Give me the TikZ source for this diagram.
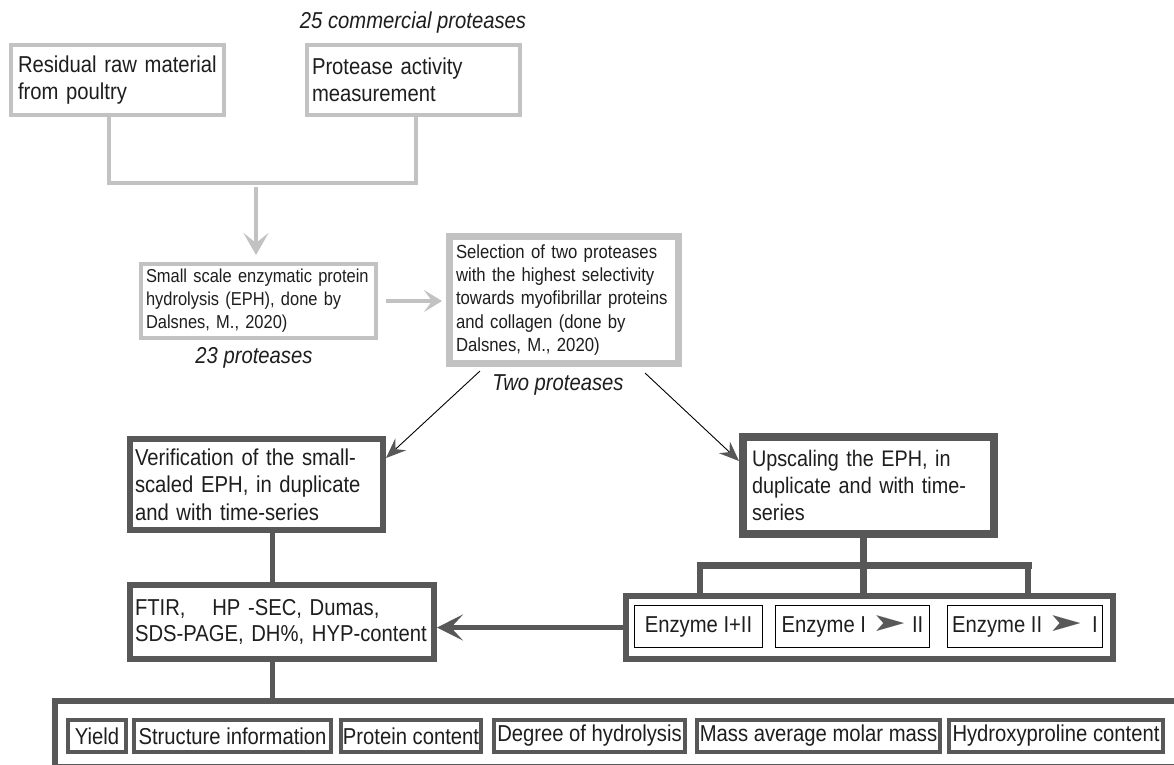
\documentclass[tikz,border=0pt]{standalone}
\usepackage{graphicx}
\usepackage{fontspec}
\setmainfont[FakeStretch=0.88]{Liberation Sans}
\newfontfamily\symfont{DejaVu Sans}
\usetikzlibrary{arrows.meta}
\definecolor{lgray}{HTML}{C2C2C2}
\definecolor{dgray}{HTML}{585858}
\definecolor{txt}{HTML}{1E1E1E}
\begin{document}
\begin{tikzpicture}[x=1pt,y=-1pt,
  every node/.style={text=txt, font=\fontsize{23}{27}\selectfont},
  lbox/.style={draw=lgray, fill=white, align=left, inner ysep=0pt},
  dbox/.style={draw=dgray, fill=white, align=left, inner ysep=0pt},
  ebox/.style={draw=black, line width=1.5pt, fill=white, inner sep=0pt, minimum height=42pt},
  rbox/.style={draw=dgray, line width=4pt, fill=white, inner sep=0pt, minimum height=32pt},
  lab/.style={font=\fontsize{23}{27}\selectfont\itshape},
  lline/.style={draw=lgray, line width=4pt},
  larrow/.style={lline, -{Stealth[length=22pt,width=25pt,inset=10pt]}},
  sarrow/.style={lline, line width=3.5pt, -{Stealth[length=18pt,width=22pt,inset=8pt]}},
  tarrow/.style={draw=black, line width=0.9pt, -{Stealth[length=20pt,width=16pt,inset=7pt,fill=dgray,color=dgray]}},
  dline/.style={draw=dgray, line width=5pt},
  barline/.style={draw=dgray, line width=7pt},
  darrow/.style={draw=dgray, line width=5pt, -{Stealth[length=26pt,width=26pt,inset=12pt]}}
]
\useasboundingbox (0,0) rectangle (1174,764);
\fill[white] (0,0) rectangle (1174,764);
\clip (0,0) rectangle (1174,764);

% top light-gray part
\node[lbox, line width=4pt, minimum width=213pt, minimum height=70pt, text width=199pt, inner xsep=7pt]
  (A) at (117.5,80) {\mbox{Residual raw material}\\\mbox{from poultry}};
\node[lbox, line width=4pt, minimum width=213pt, minimum height=70pt, text width=203pt, inner xsep=5pt]
  (B) at (413.5,80) {\mbox{Protease activity}\\\mbox{measurement}};
\node[lab] (l25) at (413,23) {25 commercial proteases};

\node[lbox, line width=4pt, minimum width=235pt, minimum height=74pt, text width=225pt, inner xsep=5pt,
  font=\fontsize{18.7}{23}\selectfont]
  (C) at (258.5,301) {\mbox{Small scale enzymatic protein}\\\mbox{hydrolysis (EPH), done by}\\\mbox{Dalsnes, M., 2020)}};
\node[lab] (l23) at (254,358) {23 proteases};

\node[lbox, line width=7pt, minimum width=229pt, minimum height=127pt, text width=216pt, inner xsep=6.5pt,
  font=\fontsize{19}{23.3}\selectfont]
  (D) at (564,300) {\mbox{Selection of two proteases}\\\mbox{with the highest selectivity}\\\mbox{towards myofibrillar proteins}\\\mbox{and collagen (done by}\\\mbox{Dalsnes, M., 2020)}};
\node[lab] (ltwo) at (558,385) {Two proteases};

\coordinate (ax) at (109,0);
\coordinate (bx) at (416,0);
\coordinate (j) at (256,183);
\draw[lline] (A.south -| ax) |- (j) -| (B.south -| bx);
\draw[larrow, shorten <=4pt, shorten >=7pt] (j) -- (C.north -| j);
\draw[sarrow, shorten <=8pt, shorten >=4pt] (C.east) -- (C.east -| D.west);

% middle dark part
\node[dbox, line width=6pt, minimum width=253pt, minimum height=91pt, text width=243pt, inner xsep=5pt,
  font=\fontsize{23}{27.5}\selectfont]
  (V) at (256.5,484.5) {\mbox{Verification of the small-}\\\mbox{scaled EPH, in duplicate}\\\mbox{and with time-series}};
\node[dbox, line width=6pt, minimum width=304pt, minimum height=74pt, text width=294pt, inner xsep=5pt,
  font=\fontsize{23}{26}\selectfont]
  (F) at (282,622) {\mbox{FTIR,\hspace*{19pt} HP -SEC, Dumas,}\\\mbox{SDS-PAGE, DH\%, HYP-content}};
\node[dbox, line width=8pt, minimum width=251pt, minimum height=97pt, text width=233pt, inner xsep=9pt,
  font=\fontsize{22.5}{27}\selectfont]
  (U) at (868.5,485.5) {\mbox{Upscaling the EPH, in}\\\mbox{duplicate and with time-}\\\mbox{series}};

\coordinate (d1) at (480,371);
\coordinate (d2) at (645,373);
\draw[tarrow] (d1) -- ([yshift=-22pt]V.north east);
\draw[tarrow] (d2) -- ([yshift=-28pt]U.north west);

% enzyme group
\node[draw=dgray, line width=6pt, fill=white, minimum width=487pt, minimum height=63pt, inner sep=0pt]
  (E) at (869.5,627.5) {};
\node[ebox, minimum width=128pt] (E1) at (698.5,626.5) {Enzyme I+II};
\node[ebox, minimum width=154pt] (E2) at (852.5,626.5)
  {Enzyme I {\color{dgray}\symfont\raisebox{1pt}{\scalebox{1.8}[1.1]{➤}}} II};
\node[ebox, minimum width=155pt] (E3) at (1025,626.5)
  {Enzyme II {\color{dgray}\symfont\raisebox{1pt}{\scalebox{1.8}[1.1]{➤}}}\hspace{4pt} I};

\coordinate (bus) at (863,565);
\coordinate (bl) at (700,565);
\coordinate (br) at (1028,565);
\draw[dline, line width=7pt] (U.south -| bus) -- (bus);
\draw[barline] ([xshift=-3.5pt]bl) -- ([xshift=3.5pt]br);
\draw[dline, line width=6pt] (bl) -- (E.north -| bl);
\draw[dline, line width=7pt] (bus) -- (E.north -| bus);
\draw[dline, line width=6pt] (br) -- (E.north -| br);

\draw[darrow] (E.west) -- (E.west -| F.east);

% bottom row
\coordinate (vx) at (272,0);
\node[draw=dgray, line width=6pt, fill=white, minimum width=1145pt, minimum height=66pt, inner sep=0pt]
  (R) at (627.5,734) {};
\draw[dline] (V.south -| vx) -- (F.north -| vx);
\draw[dline] (F.south -| vx) -- (R.north -| vx);

\node[rbox, minimum width=58pt] (r1) at (97,736) {Yield};
\node[rbox, minimum width=197pt] (r2) at (232.5,736) {Structure information};
\node[rbox, minimum width=140pt] (r3) at (411,736) {Protein content};
\node[rbox, minimum width=191pt] (r4) at (589.5,736) {Degree of hydrolysis};
\node[rbox, minimum width=243pt] (r5) at (818.5,736) {Mass average molar mass};
\node[rbox, minimum width=214pt] (r6) at (1056,736) {Hydroxyproline content};
\end{tikzpicture}
\end{document}
